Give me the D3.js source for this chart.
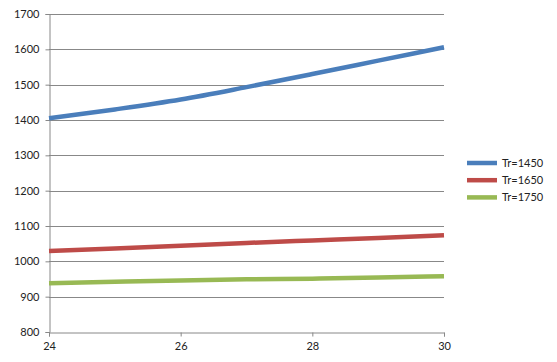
<!DOCTYPE html>
<html>
<head>
<meta charset="utf-8">
<script src="https://cdn.jsdelivr.net/npm/d3@7"></script>
<style>
  body { margin: 0; background: #fff; }
  text { font-family: Lato, "Open Sans", sans-serif; fill: #222; }
</style>
</head>
<body>
<svg id="chart" width="557" height="362"></svg>
<script>
"use strict";

const xValues = [24, 25, 26, 27, 28, 29, 30]
const tr1450 = [1405, 1430, 1458, 1493, 1530, 1568, 1606]
const tr1650 = [1029, 1036, 1044, 1052, 1059, 1066, 1074]
const tr1750 = [938, 942, 946, 949, 951, 954, 958]
const seriesNames = ["Tr=1450", "Tr=1650", "Tr=1750"]
const xTicks = [24, 26, 28, 30]
const yTicks = [800, 900, 1000, 1100, 1200, 1300, 1400, 1500, 1600, 1700]

const colors = ["#4A7EBB", "#BE4B48", "#98B954"]
const series = [tr1450, tr1650, tr1750]

const margin = { left: 49, right: 113, top: 14, bottom: 30 }
const width = 557, height = 362

const svg = d3.select("#chart")

const x = d3.scaleLinear().domain([24, 30]).range([margin.left, width - margin.right])
const y = d3.scaleLinear().domain([800, 1700]).range([height - margin.bottom, margin.top])

// gridlines
svg.append("g")
    .selectAll("line")
    .data(yTicks.slice(1))
    .join("line")
    .attr("x1", margin.left)
    .attr("x2", width - margin.right)
    .attr("y1", d => Math.round(y(d)) + 0.5)
    .attr("y2", d => Math.round(y(d)) + 0.5)
    .attr("stroke", "#888")
    .attr("stroke-width", 1)

// y axis
const yAxis = svg.append("g")
    .attr("transform", `translate(${margin.left + 0.5},0)`)
    .call(d3.axisLeft(y).tickValues(yTicks).tickSize(4).tickPadding(6).tickFormat(d3.format("d")))
yAxis.select(".domain").attr("stroke", "#888")
yAxis.selectAll(".tick line").attr("stroke", "#888")
yAxis.selectAll("text").style("font-size", "11px").style("fill", "#222")

// x axis
const xAxis = svg.append("g")
    .attr("transform", `translate(0,${Math.round(y(800)) + 0.5})`)
    .call(d3.axisBottom(x).tickValues(xTicks).tickSize(4).tickPadding(6).tickFormat(d3.format("d")))
xAxis.select(".domain").attr("stroke", "#888")
xAxis.selectAll(".tick line").attr("stroke", "#888")
xAxis.selectAll("text").style("font-size", "11px").style("fill", "#222")

// lines
const line = d3.line()
    .x((d, i) => x(xValues[i]))
    .y(d => y(d))
    .curve(d3.curveMonotoneX)

svg.append("g")
    .selectAll("path")
    .data(series)
    .join("path")
    .attr("d", line)
    .attr("fill", "none")
    .attr("stroke", (d, i) => colors[i])
    .attr("stroke-width", 4.5)

// legend
const legend = svg.append("g")
    .attr("transform", "translate(467,163)")
seriesNames.forEach((name, i) => {
    const g = legend.append("g").attr("transform", `translate(0,${i * 17.2})`)
    g.append("line")
        .attr("x1", 0).attr("x2", 30)
        .attr("y1", 0).attr("y2", 0)
        .attr("stroke", colors[i])
        .attr("stroke-width", 4.5)
    g.append("text")
        .attr("x", 35).attr("y", 0)
        .attr("dy", "0.35em")
        .style("font-size", "11px")
        .text(name)
})
</script>
</body>
</html>
